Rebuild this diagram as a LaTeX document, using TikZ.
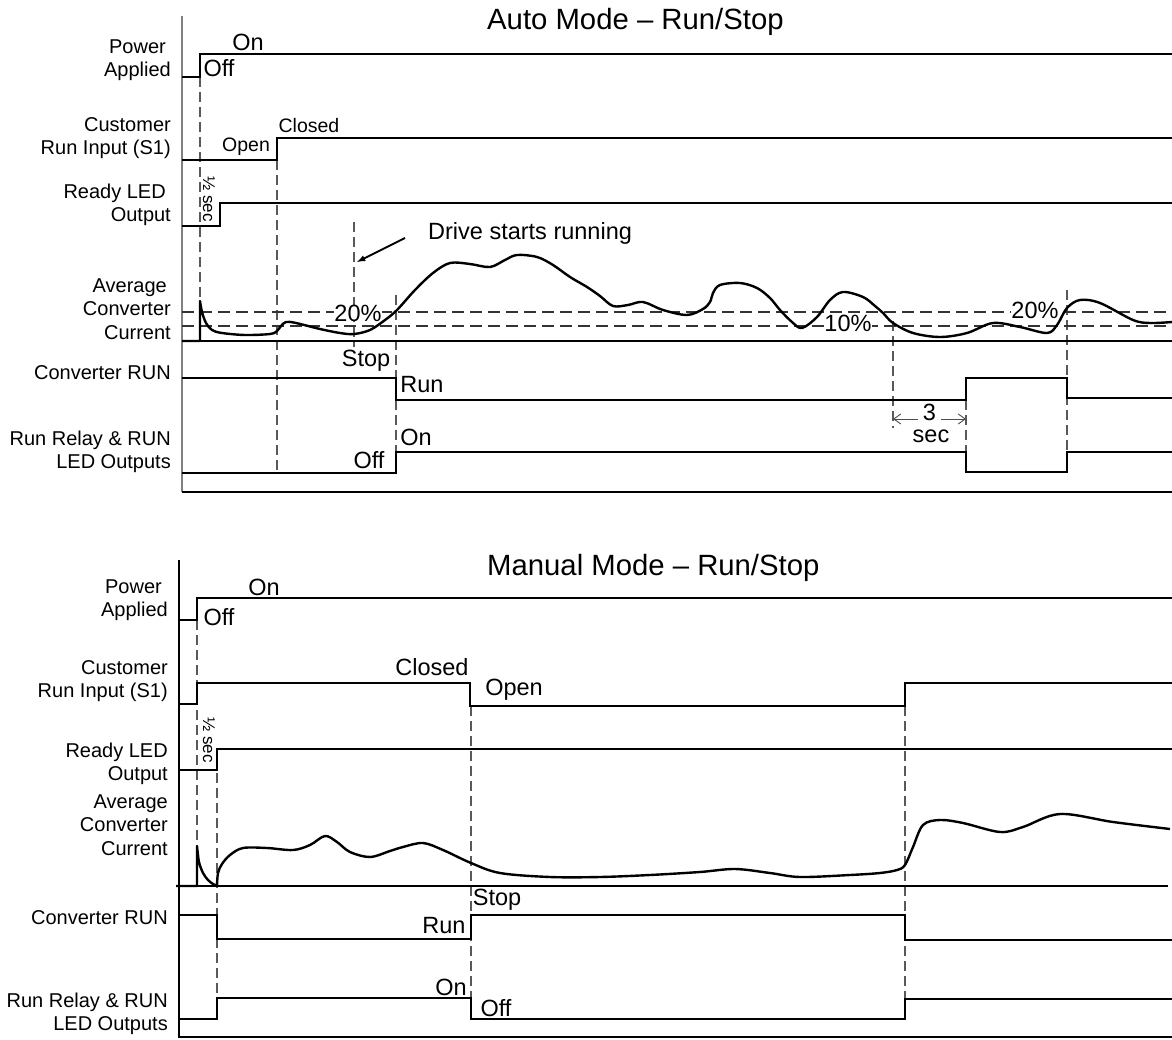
\documentclass[tikz,border=0pt]{standalone}
\usepackage{fontspec}
\setmainfont{Liberation Sans}
\usetikzlibrary{arrows.meta}
\begin{document}
\begin{tikzpicture}[x=1pt,y=-1pt,
	wave/.style={line width=2.6pt},
	curve/.style={line width=2.4pt, line join=round},
	guide/.style={gray!70!black, line width=1.2pt, dash pattern=on 10pt off 5pt},
	lvl/.style={black!80, line width=1.2pt, dash pattern=on 12pt off 6pt},
	sig/.style={anchor=east, align=right, inner sep=0pt, font=\fontsize{20}{23.5}\selectfont},
	lvltext/.style={inner sep=0pt, font=\fontsize{23.5}{27}\selectfont},
	ttl/.style={anchor=west, inner sep=0pt, font=\fontsize{29.3}{34}\selectfont},
	halfsec/.style={rotate=-90, inner sep=0pt, font=\fontsize{17}{20}\selectfont},
	barb/.tip={Straight Barb[length=7pt, width=10pt]}]
	\useasboundingbox (0,0) rectangle (1172,1040);
	
	% auto mode
	\node[ttl] (autottl) at (487,22) {Auto Mode – Run/Stop};
	\draw[gray, line width=1.6pt] (182,16)--(182,492);
	\draw[line width=1.4pt] (182,492)--(1172,492);
	\node[sig] (apwr) at (171,60) {Power\hspace*{5pt}\\Applied};
	\node[sig] (arun) at (171,138) {Customer\\Run Input (S1)};
	\node[sig] (ardy) at (171,205) {Ready LED\hspace*{5pt}\\Output};
	\node[sig] (acur) at (171,309) {Average\hspace*{4pt}\\Converter\\Current};
	\node[sig] (acnv) at (171,373) {Converter RUN};
	\node[sig] (arly) at (171,452) {Run Relay \& RUN\\LED Outputs};
	
	\draw[guide] (200,77)--(200,341)  (277,160)--(277,473)  (354,222)--(354,347)
		(396,295)--(396,452)  (893,321)--(893,428)  (966,400)--(966,452)  (1067,290)--(1067,452);
	\draw[line width=1.3pt] (182,341)--(1172,341);
	\draw[lvl] (182,312)--(1172,312)  (182,326)--(1172,326);
	
	\draw[wave] (182,77)--(200,77)--(200,54)--(1172,54);
	\draw[wave] (182,160)--(277,160)--(277,138)--(1172,138);
	\draw[wave] (182,226)--(220,226)--(220,203)--(1172,203);
	\draw[wave] (182,378)--(396,378)--(396,400)--(966,400)--(966,378)--(1067,378)--(1067,398)--(1172,398);
	\draw[wave] (182,473)--(396,473)--(396,452)--(966,452)--(966,472)--(1067,472)--(1067,452)--(1172,452);
	
	\node[lvltext] (aon) at (248,42) {On};
	\node[lvltext] (aoff) at (219,68) {Off};
	\node[inner sep=0pt, font=\fontsize{19.5}{23}\selectfont] (aopen) at (246,147) {Open};
	\node[inner sep=0pt, font=\fontsize{19.5}{23}\selectfont] (aclosed) at (309,126) {Closed};
	\node[halfsec] (ahalf) at (209,199) {½ sec};
	\node[lvltext, fill=white] (atwenty) at (358,313) {20\%};
	\node[lvltext, fill=white] (aten) at (848,323) {10\%};
	\node[lvltext, fill=white] (atwentyb) at (1035,310) {20\%};
	\node[lvltext] (astop) at (366,361) {Stop};
	\node[lvltext] (arunlbl) at (422,385) {Run};
	\node[lvltext] (arlyon) at (416,437) {On};
	\node[lvltext] (arlyoff) at (369,460) {Off};
	\node[lvltext, anchor=west] (drive) at (428,233) {Drive starts running};
	\coordinate (runpt) at (357,262);
	\draw[-latex, line width=1.8pt] ([shift={(-23,5)}]drive.west)--(runpt);
	
	\draw[curve] (182,341)--(200,341)--plot[smooth, tension=0.55] coordinates {(200,301) (202,312) (206,323) (212,330) (222,333) (245,335) (270,334) (277,331) (281,326) (286,322) (296,323) (320,329) (340,333) (354,334) (370,330) (385,320) (397,310) (415,290) (433,273) (450,263) (470,264) (490,267) (505,260) (517,255) (537,257) (553,265) (570,277) (587,287) (600,296) (613,306) (628,305) (643,302) (663,310) (687,315) (703,309) (710,302) (713,293) (720,285) (740,283) (757,288) (770,298) (780,310) (792,322) (802,328) (817,317) (830,300) (843,292) (863,297) (875,306) (883,313) (893,323) (913,333) (940,337) (967,333) (993,323) (1020,327) (1047,333) (1057,325) (1067,308) (1080,300) (1100,303) (1133,320) (1150,323) (1172,322)};
	
	\coordinate (tthree) at (893,419);
	\coordinate (tthreeb) at (966,419);
	\draw[barb-barb, gray!60!black, line width=0.9pt] (tthree)--(tthreeb) node[midway, lvltext, fill=white, inner xsep=5pt, yshift=7pt, text=black] (three) {3};
	\node[lvltext] (asec) at (931,436) {sec};
	
	% manual mode
	\node[ttl] (manttl) at (487,568) {Manual Mode – Run/Stop};
	\draw[line width=1.4pt] (179,560)--(179,1037)--(1172,1037);
	\node[sig] (mpwr) at (168,600) {Power\hspace*{6pt}\\Applied};
	\node[sig] (mrun) at (168,681) {Customer\\Run Input (S1)};
	\node[sig] (mrdy) at (168,764) {Ready LED\\Output};
	\node[sig] (mcur) at (168,825) {Average\\Converter\\Current};
	\node[sig] (mcnv) at (168,918) {Converter RUN};
	\node[sig] (mrly) at (168,1014) {Run Relay \& RUN\\LED Outputs};
	
	\draw[guide] (197,620)--(197,846)  (217,773)--(217,998)  (471,706)--(471,998)  (905,706)--(905,999);
	\draw[line width=1.3pt] (176,886)--(1168,886);
	
	\draw[wave] (179,620)--(197,620)--(197,598)--(1172,598);
	\draw[wave] (179,704)--(197,704)--(197,683)--(470,683)--(470,706)--(905,706)--(905,683)--(1172,683);
	\draw[wave] (179,770)--(217,770)--(217,749)--(1172,749);
	\draw[wave] (179,915)--(217,915)--(217,939)--(471,939)--(471,915)--(905,915)--(905,940)--(1172,940);
	\draw[wave] (179,1019)--(217,1019)--(217,998)--(471,998)--(471,1019)--(905,1019)--(905,999)--(1172,999);
	
	\node[lvltext] (mon) at (264,587) {On};
	\node[lvltext] (moff) at (219,617) {Off};
	\node[lvltext] (mclosed) at (432,667) {Closed};
	\node[lvltext] (mopen) at (514,690) {Open};
	\node[halfsec] (mhalf) at (209,740) {½ sec};
	\node[lvltext] (mstop) at (497,900) {Stop};
	\node[lvltext] (mrunlbl) at (444,926) {Run};
	\node[lvltext] (mrlyon) at (451,987) {On};
	\node[lvltext] (mrlyoff) at (496,1008) {Off};
	
	\draw[curve] (176,886)--(197,886)--plot[smooth, tension=0.5] coordinates {(197,846) (199,862) (203,873) (208,880) (213,884) (217,886)}
		--plot[smooth, tension=0.55] coordinates {(217,886) (218,873) (222,864) (230,855) (243,848) (267,848) (293,850) (310,845) (325,836) (337,842) (350,852) (370,857) (390,851) (403,847) (423,843) (443,850) (471,863) (500,873) (550,877) (600,877) (650,875) (700,872) (735,869) (770,873) (800,877) (850,875) (880,873) (897,870) (905,865) (913,847) (923,825) (940,820) (963,823) (1000,832) (1023,827) (1060,814) (1113,822) (1170,829)};
\end{tikzpicture}
\end{document}
